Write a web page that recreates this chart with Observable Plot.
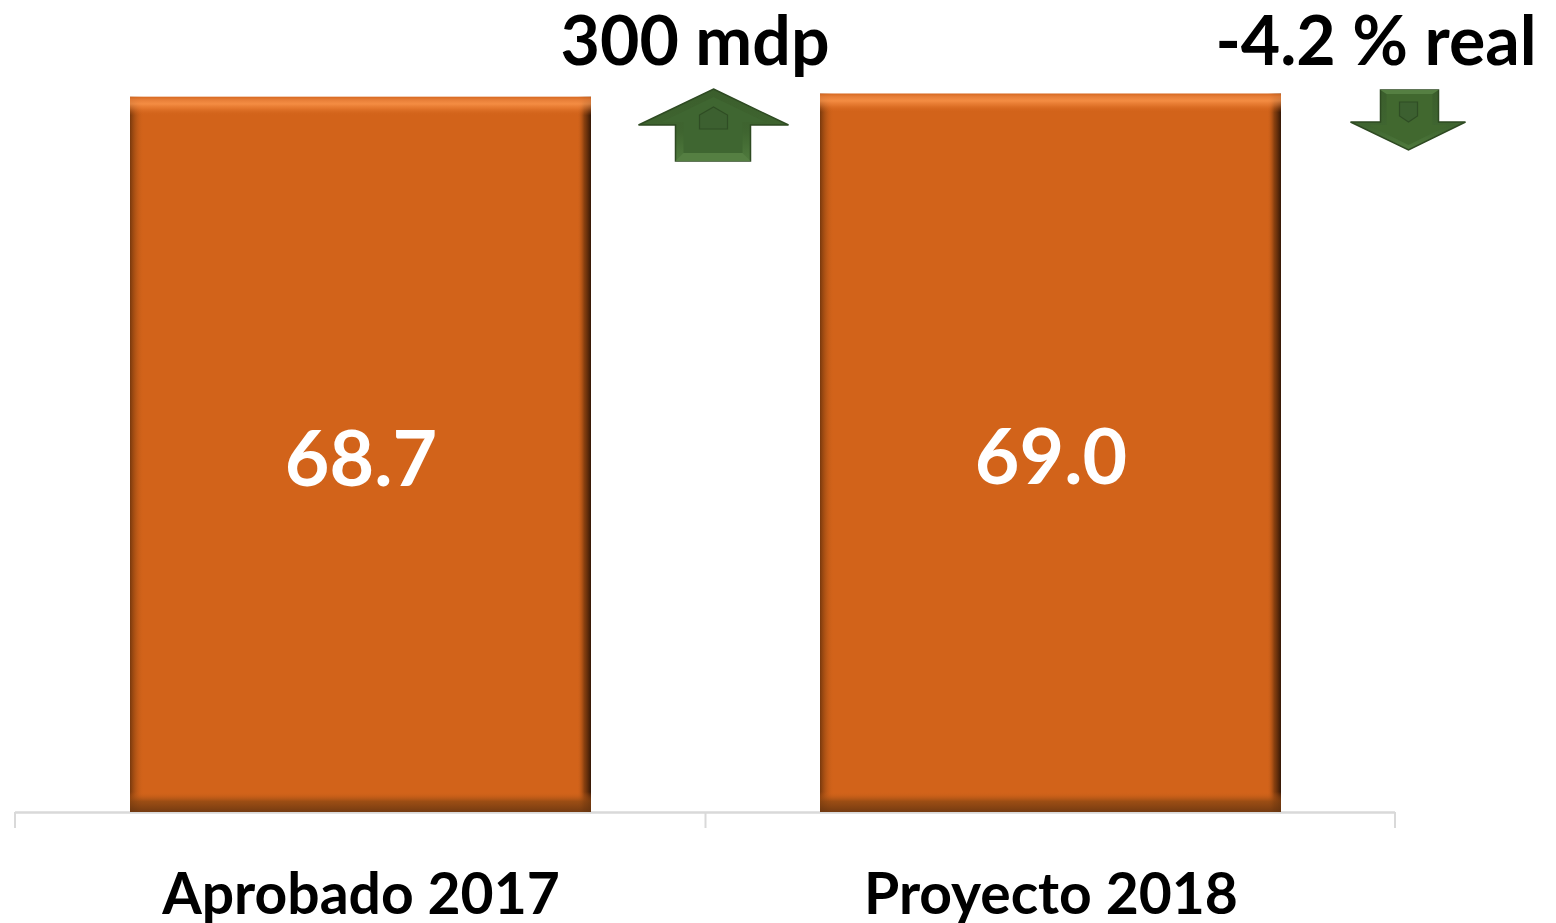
<!DOCTYPE html>
<html>
<head>
<meta charset="utf-8">
<script src="https://cdn.jsdelivr.net/npm/d3@7"></script>
<script src="https://cdn.jsdelivr.net/npm/@observablehq/plot@0.6"></script>
<style>
  html, body { margin: 0; padding: 0; background: #fff; }
  #chart { width: 1556px; height: 923px; overflow: hidden; }
  svg text { font-family: Lato, "Open Sans", sans-serif; }
</style>
</head>
<body>
<div id="chart"></div>
<script>
// ---- data ----
const categories = ["Aprobado 2017", "Proyecto 2018"];
const values = [68.7, 69.0];
const valueLabels = ["68.7", "69.0"];
const changeLabels = ["300 mdp", "-4.2 % real"];
const changeDirection = ["up", "down"];

const data = categories.map((c, i) => ({category: c, value: values[i], label: valueLabels[i]}));
const changes = categories.map((c, i) => ({category: c, label: changeLabels[i], dir: changeDirection[i]}));

// defs for bevel gradients
function defsMark() {
  const defs = d3.create("svg:defs");
  const h = defs.append("linearGradient").attr("id", "bevelH").attr("x1", 0).attr("x2", 1).attr("y1", 0).attr("y2", 0);
  [[0, "#5a2a08", 0.75], [0.012, "#8a420f", 0.45], [0.03, "#d2631a", 0],
   [0.97, "#d2631a", 0], [0.985, "#5a2a08", 0.6], [1, "#2a1204", 0.95]]
    .forEach(([o, c, a]) => h.append("stop").attr("offset", o).attr("stop-color", c).attr("stop-opacity", a));
  const v = defs.append("linearGradient").attr("id", "bevelV").attr("x1", 0).attr("x2", 0).attr("y1", 0).attr("y2", 1);
  [[0, "#d86a22", 0.9], [0.004, "#e8803a", 0.9], [0.01, "#ff9a50", 0.75], [0.016, "#f58a40", 0.5], [0.026, "#d2631a", 0],
   [0.972, "#d2631a", 0], [0.985, "#8a4612", 0.75], [1, "#6a3610", 0.9]]
    .forEach(([o, c, a]) => v.append("stop").attr("offset", o).attr("stop-color", c).attr("stop-opacity", a));
  const g = defs.append("linearGradient").attr("id", "arrowG").attr("x1", 0).attr("x2", 0).attr("y1", 0).attr("y2", 1);
  [[0, "#3b5e2c"], [0.6, "#3f6530"], [1, "#4f7a3d"]]
    .forEach(([o, c]) => g.append("stop").attr("offset", o).attr("stop-color", c));
  return defs.node();
}

// category boundary ticks below the axis
function boundaryTicks(index, scales, values, dims) {
  const x = scales.x;
  const bw = x.bandwidth ? x.bandwidth() : 0;
  const centers = categories.map(c => x(c) + bw / 2);
  const left = dims.marginLeft, right = dims.width - dims.marginRight;
  const bounds = [left];
  for (let i = 1; i < centers.length; i++) bounds.push((centers[i - 1] + centers[i]) / 2);
  bounds.push(right);
  const y0 = dims.height - dims.marginBottom;
  const g = d3.create("svg:g").attr("stroke", "#d9d9d9").attr("stroke-width", 2);
  bounds.forEach(b => g.append("line").attr("x1", b).attr("x2", b).attr("y1", y0).attr("y2", y0 + 16));
  return g.node();
}

// arrows next to each bar
function arrows(index, scales, values, dims) {
  const x = scales.x;
  const bw = x.bandwidth ? x.bandwidth() : 0;
  const g = d3.create("svg:g");
  changes.forEach(d => {
    const cx = x(d.category) + bw / 2;
    if (d.dir === "up") {
      const a = g.append("g").attr("transform", `translate(${cx + 353},${dims.marginTop + 89})`);
      a.append("path").attr("d", "M0,0L75,36L37,36L37,72L-38,72L-38,36L-75,36Z")
        .attr("fill", "url(#arrowG)").attr("stroke", "#2e4a22").attr("stroke-width", 1.5);
      a.append("path").attr("d", "M0,8L52,33L29,33L29,64L-30,64L-30,33L-52,33Z")
        .attr("fill", "#3f6631");
      a.append("path").attr("d", "M-30,64L29,64L37,72L-38,72Z").attr("fill", "#557f42");
      a.append("path").attr("d", "M-14,26L0,18L14,26L14,40L-14,40Z")
        .attr("fill", "#3c6030").attr("stroke", "#2f4d24").attr("stroke-width", 1.2);
    } else {
      const a = g.append("g").attr("transform", `translate(${cx + 358},${dims.marginTop + 150})`);
      a.append("path").attr("d", "M-28,-60L30,-60L30,-28L57,-28L0,0L-58,-28L-28,-28Z")
        .attr("fill", "url(#arrowG)").attr("stroke", "#2e4a22").attr("stroke-width", 1.5);
      a.append("path").attr("d", "M-22,-56L24,-56L24,-25L40,-25L0,-5L-40,-25L-22,-25Z")
        .attr("fill", "#41682f");
      a.append("path").attr("d", "M-28,-60L30,-60L24,-56L-22,-56Z").attr("fill", "#557f42");
      a.append("path").attr("d", "M-9,-48L9,-48L9,-34L0,-28L-9,-34Z")
        .attr("fill", "#3c6030").attr("stroke", "#2f4d24").attr("stroke-width", 1.2);
    }
  });
  return g.node();
}

const changeText = (i, dx) => Plot.text([changes[i]], {
  x: "category", text: "label", frameAnchor: "top", lineAnchor: "bottom",
  dx, dy: 64, fill: "#000", fontSize: 68, fontWeight: "bold"
});

const chart = Plot.plot({
  width: 1556,
  height: 923,
  marginLeft: 15,
  marginRight: 161,
  marginTop: 0,
  marginBottom: 111,
  style: {background: "#fff", fontFamily: "Lato, 'Open Sans', sans-serif", overflow: "visible"},
  x: {domain: categories, paddingInner: 0.332, paddingOuter: 0.166, axis: null},
  y: {domain: [0, 78], axis: null},
  marks: [
    defsMark,
    Plot.ruleY([0], {stroke: "#d9d9d9", strokeWidth: 2.5}),
    boundaryTicks,
    Plot.barY(data, {x: "category", y: "value", fill: "#d2631a"}),
    Plot.barY(data, {x: "category", y: "value", fill: "url(#bevelH)"}),
    Plot.barY(data, {x: "category", y: "value", fill: "url(#bevelV)"}),
    Plot.text(data, {x: "category", y: d => d.value / 2, text: "label", fill: "#fff",
      fontSize: 77, fontWeight: "bold", lineAnchor: "middle", dy: 6}),
    Plot.text(categories, {x: d => d, text: d => d, frameAnchor: "bottom", lineAnchor: "bottom",
      dy: 101, fill: "#000", fontSize: 57, fontWeight: "bold"}),
    changeText(0, 334),
    changeText(1, 325),
    arrows
  ]
});
document.getElementById("chart").appendChild(chart);
</script>
</body>
</html>
